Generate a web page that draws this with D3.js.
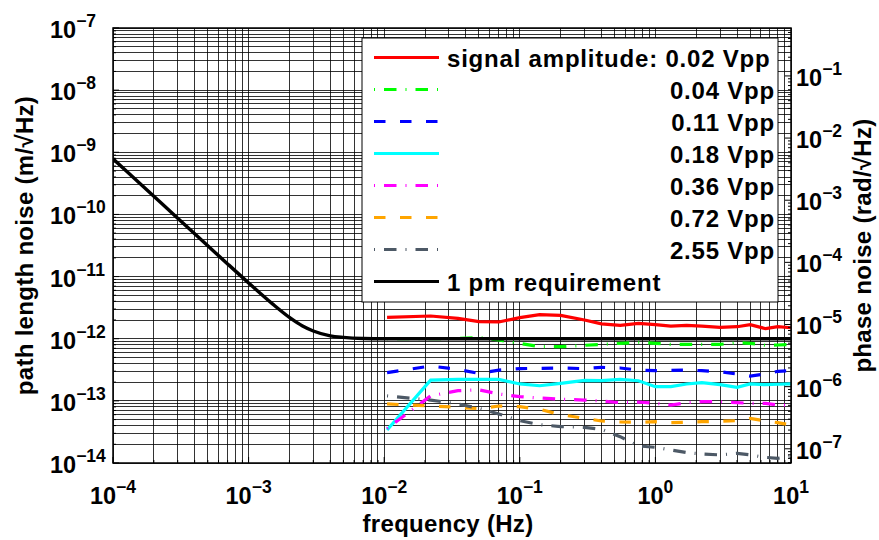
<!DOCTYPE html>
<html>
<head>
<meta charset="utf-8">
<script src="https://cdn.jsdelivr.net/npm/d3@7"></script>
<style>
  body { margin: 0; background: #fff; }
  svg text { font-family: "Liberation Sans", Arial, Helvetica, sans-serif; font-weight: bold; fill: #000; }
</style>
</head>
<body>
<div id="chart"></div>
<script>
// ---- data ----
const xExp = [-4, -3, -2, -1, 0, 1];
const yExp = [-14, -13, -12, -11, -10, -9, -8, -7];
const phaseExp = [-7, -6, -5, -4, -3, -2, -1];

const freq = [0.0105, 0.022, 0.035, 0.05, 0.07, 0.1, 0.14, 0.2, 0.3, 0.4, 0.55, 0.75,
              1.0, 1.3, 1.7, 2.2, 3, 4, 5, 6.5, 8, 10];

const amp002 = [2.21e-12, 2.32e-12, 2.13e-12, 1.88e-12, 1.86e-12, 2.18e-12, 2.44e-12, 2.38e-12,
                2.0e-12, 1.73e-12, 1.64e-12, 1.77e-12, 1.68e-12, 1.6e-12, 1.64e-12, 1.6e-12,
                1.52e-12, 1.56e-12, 1.68e-12, 1.45e-12, 1.56e-12, 1.5e-12];
const amp004 = [1.0e-12, 1.0e-12, 1.01e-12, 1.04e-12, 9.53e-13, 8.43e-13, 7.44e-13, 7.44e-13,
                7.83e-13, 8.11e-13, 8.43e-13, 8.75e-13, 8.43e-13, 8.11e-13, 8.11e-13, 8.11e-13,
                8.11e-13, 8.63e-13, 8.43e-13, 7.83e-13, 7.92e-13, 8.11e-13];
const amp011 = [2.84e-13, 3.64e-13, 3.21e-13, 2.77e-13, 3.13e-13, 3.30e-13, 3.34e-13, 3.38e-13,
                3.30e-13, 3.46e-13, 3.38e-13, 3.13e-13, 3.06e-13, 3.10e-13, 3.13e-13, 3.06e-13,
                2.94e-13, 2.70e-13, 2.51e-13, 2.70e-13, 2.99e-13, 3.06e-13];
const amp018 = [3.4e-14, 2.16e-13, 2.22e-13, 2.22e-13, 2.22e-13, 1.87e-13, 1.75e-13, 1.91e-13,
                2.14e-13, 2.11e-13, 2.22e-13, 2.11e-13, 1.69e-13, 1.69e-13, 1.87e-13, 1.96e-13,
                1.82e-13, 1.65e-13, 1.87e-13, 1.82e-13, 1.85e-13, 1.87e-13];
const amp036 = [3.6e-14, 1.20e-13, 1.46e-13, 1.50e-13, 1.29e-13, 1.17e-13, 1.11e-13, 1.06e-13,
                1.03e-13, 9.94e-14, 9.35e-14, 9.59e-14, 9.12e-14, 8.57e-14, 9.35e-14, 9.70e-14,
                9.70e-14, 9.35e-14, 9.12e-14, 9.12e-14, 8.57e-14, 8.47e-14];
const amp072 = [8.91e-14, 8.27e-14, 7.87e-14, 7.48e-14, 8.27e-14, 8.05e-14, 7.31e-14, 6.00e-14,
                5.24e-14, 4.74e-14, 4.57e-14, 4.51e-14, 4.62e-14, 4.46e-14, 4.51e-14, 4.62e-14,
                4.68e-14, 4.80e-14, 5.24e-14, 4.74e-14, 4.46e-14, 4.09e-14];
const amp255 = [1.20e-13, 1.03e-13, 8.91e-14, 7.59e-14, 6.15e-14, 4.80e-14, 4.14e-14, 3.85e-14,
                3.75e-14, 3.48e-14, 2.65e-14, 1.88e-14, 1.79e-14, 1.62e-14, 1.47e-14, 1.40e-14,
                1.35e-14, 1.43e-14, 1.35e-14, 1.23e-14, 1.19e-14, 1.29e-14];

const reqFreq = [1e-4, 2e-4, 3e-4, 5e-4, 7e-4, 1e-3, 1.5e-3, 2e-3, 2.5e-3, 3e-3, 4e-3, 5e-3, 7e-3, 1e-2, 10];
const reqNoise = [7.84e-10, 1.96e-10, 8.71e-11, 3.14e-11, 1.6e-11, 7.9e-12, 3.63e-12, 2.2e-12,
                  1.6e-12, 1.33e-12, 1.11e-12, 1.05e-12, 1.01e-12, 1.0e-12, 1.0e-12];

const labels = ["signal amplitude: 0.02 Vpp", "0.04 Vpp", "0.11 Vpp", "0.18 Vpp",
                "0.36 Vpp", "0.72 Vpp", "2.55 Vpp", "1 pm requirement"];

// path length -> phase for a 1064 nm laser
const radPerMeter = 2 * Math.PI / 1.064e-6;

// ---- layout ----
const margin = {top: 28, right: 88, bottom: 77, left: 113};
const width = 879 - margin.left - margin.right;
const height = 540 - margin.top - margin.bottom;

const svg = d3.select("#chart")
    .append("svg")
    .attr("width", 879)
    .attr("height", 540)
    .append("g")
    .attr("transform", `translate(${margin.left},${margin.top})`);

const x = d3.scaleLog().domain([1e-4, 10]).range([0, width]);
const y = d3.scaleLog().domain([1e-14, 1e-7]).range([height, 0]);
const yPhase = d3.scaleLog().domain([1e-14 * radPerMeter, 1e-7 * radPerMeter]).range([height, 0]);

// minor + major tick positions per decade
function decadeTicks(scale) {
    const [lo, hi] = scale.domain();
    const out = [];
    for (let e = Math.floor(Math.log10(lo)); e <= Math.ceil(Math.log10(hi)); e++) {
        for (let m = 1; m < 10; m++) {
            const v = m * Math.pow(10, e);
            if (v >= lo * 0.9999 && v <= hi * 1.0001) out.push(v);
        }
    }
    return out;
}
const xTicks = decadeTicks(x);
const yTicks = decadeTicks(y);
const pTicks = decadeTicks(yPhase);
const isMajor = v => Math.abs(Math.log10(v) - Math.round(Math.log10(v))) < 1e-6;

// ---- grid ----
svg.append("g")
    .selectAll("line")
    .data(xTicks)
    .join("line")
    .attr("x1", d => x(d)).attr("x2", d => x(d))
    .attr("y1", 0).attr("y2", height)
    .attr("stroke", "#000").attr("stroke-opacity", 0.8)
    .attr("stroke-width", 1)
    .attr("shape-rendering", "crispEdges");

svg.append("g")
    .selectAll("line")
    .data(yTicks)
    .join("line")
    .attr("x1", 0).attr("x2", width)
    .attr("y1", d => y(d)).attr("y2", d => y(d))
    .attr("stroke", "#000").attr("stroke-opacity", 0.8)
    .attr("stroke-width", 1)
    .attr("shape-rendering", "crispEdges");

// ---- series ----
svg.append("clipPath").attr("id", "clip")
    .append("rect").attr("width", width).attr("height", height);

const series = [
    {values: amp002, color: "#ff0000", dash: null},
    {values: amp004, color: "#00ff00", dash: "1,9,12.5,9"},
    {values: amp011, color: "#0000ff", dash: "11.5,14.5"},
    {values: amp018, color: "#00ffff", dash: null},
    {values: amp036, color: "#ff00ff", dash: "1,9,12.5,9"},
    {values: amp072, color: "#ffa500", dash: "11.5,14.5"},
    {values: amp255, color: "#4d5966", dash: "1,9,12.5,9"},
    {values: null, color: "#000000", dash: null}
];

const line = d3.line()
    .x(d => x(d[0]))
    .y(d => y(d[1]));

const plotArea = svg.append("g").attr("clip-path", "url(#clip)");

series.slice(0, 7).forEach(s => {
    plotArea.append("path")
        .datum(d3.zip(freq, s.values))
        .attr("fill", "none")
        .attr("stroke", s.color)
        .attr("stroke-width", 3.2)
        .attr("stroke-dasharray", s.dash)
        .attr("d", line);
});

plotArea.append("path")
    .datum(d3.zip(reqFreq, reqNoise))
    .attr("fill", "none")
    .attr("stroke", "#000")
    .attr("stroke-width", 3.4)
    .attr("d", line.curve(d3.curveMonotoneX));

// ---- box + ticks ----
svg.append("rect")
    .attr("width", width).attr("height", height)
    .attr("fill", "none").attr("stroke", "#000").attr("stroke-width", 1.5);

const tickLen = v => isMajor(v) ? 6 : 3;
const tickG = svg.append("g").attr("stroke", "#000").attr("stroke-width", 1);
tickG.selectAll(".xt").data(xTicks).join("line")
    .attr("x1", d => x(d)).attr("x2", d => x(d))
    .attr("y1", height).attr("y2", d => height - tickLen(d));
tickG.selectAll(".yt").data(yTicks).join("line")
    .attr("x1", 0).attr("x2", d => tickLen(d))
    .attr("y1", d => y(d)).attr("y2", d => y(d));
tickG.selectAll(".pt").data(pTicks).join("line")
    .attr("x1", width).attr("x2", d => width - tickLen(d))
    .attr("y1", d => yPhase(d)).attr("y2", d => yPhase(d));

// ---- tick labels (10^n) ----
function powerLabel(px, py, exp, anchor) {
    const t = svg.append("text")
        .attr("x", px).attr("y", py)
        .attr("text-anchor", anchor)
        .style("font-size", "23.5px");
    t.append("tspan").text("10");
    t.append("tspan")
        .attr("dy", -11)
        .style("font-size", "17.5px")
        .text("\u2212".repeat(exp < 0 ? 1 : 0) + Math.abs(exp));
}

yExp.forEach(e => powerLabel(50 - margin.left, y(Math.pow(10, e)) + 10, e, "start"));
xExp.forEach(e => powerLabel(x(Math.pow(10, e)), height + 41, e, "middle"));
phaseExp.forEach(e => powerLabel(796 - margin.left, yPhase(Math.pow(10, e)) + 10, e, "start"));

// ---- axis titles ----
svg.append("text")
    .attr("x", width / 2 - 4)
    .attr("y", 532 - margin.top)
    .attr("text-anchor", "middle")
    .style("font-size", "24px")
    .style("letter-spacing", "0.3px")
    .text("frequency (Hz)");

svg.append("text")
    .attr("transform", `translate(${33 - margin.left},${height / 2}) rotate(-90)`)
    .attr("text-anchor", "middle")
    .style("font-size", "24px")
    .style("letter-spacing", "0.3px")
    .text("path length noise (m/\u221AHz)");

svg.append("text")
    .attr("transform", `translate(${871 - margin.left},${height / 2}) rotate(-90)`)
    .attr("text-anchor", "middle")
    .style("font-size", "24px")
    .style("letter-spacing", "0.3px")
    .text("phase noise (rad/\u221AHz)");

// ---- legend ----
const legend = svg.append("g").attr("transform", `translate(${362 - margin.left},${38 - margin.top})`);
legend.append("rect")
    .attr("width", 416).attr("height", 264)
    .attr("fill", "#fff").attr("stroke", "#000").attr("stroke-width", 1);

const rowY = i => 19.5 + i * 32;
legend.selectAll(".lg-line")
    .data(series)
    .join("line")
    .attr("x1", 12).attr("x2", 77)
    .attr("y1", (d, i) => rowY(i)).attr("y2", (d, i) => rowY(i))
    .attr("stroke", d => d.color)
    .attr("stroke-width", 3.2)
    .attr("stroke-dasharray", d => d.dash);

legend.selectAll(".lg-text")
    .data(labels)
    .join("text")
    .attr("x", (d, i) => (i === 0 || i === 7) ? 85 : 413)
    .attr("y", (d, i) => rowY(i) + 9.5)
    .attr("text-anchor", (d, i) => (i === 0 || i === 7) ? "start" : "end")
    .style("font-size", "24px")
    .style("letter-spacing", "0.8px")
    .text(d => d);
</script>
</body>
</html>
